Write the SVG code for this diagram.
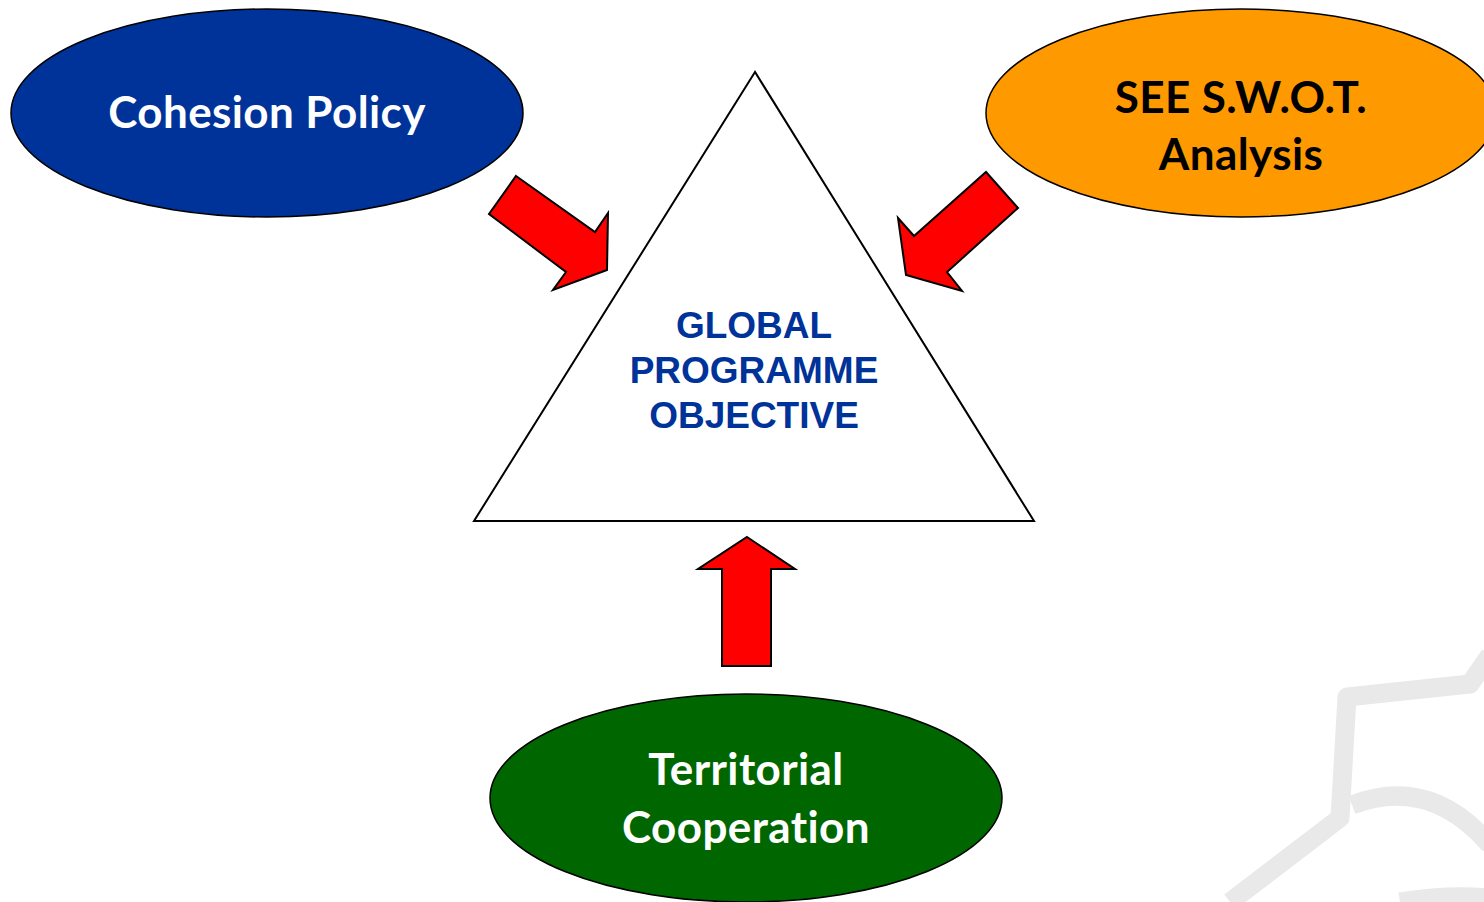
<svg xmlns="http://www.w3.org/2000/svg" width="1484" height="902" viewBox="0 0 1484 902">
<style>
.ell{stroke:#000;stroke-width:1.5}
.lbl{font-family:Lato,"Open Sans",sans-serif;font-weight:bold;font-size:44px;letter-spacing:0.4px;text-anchor:middle;font-variant-ligatures:none;font-feature-settings:"liga" 0}
.arrow{fill:#FF0000;stroke:#000;stroke-width:2;stroke-linejoin:miter}
.goal{font-family:"Liberation Sans",Arial,sans-serif;font-weight:bold;font-size:37px;fill:#003399;text-anchor:middle}
.wm{fill:none;stroke:#E9E9EA;stroke-width:19;stroke-linejoin:round}
</style>
<rect width="1484" height="902" fill="#fff"/>
<g id="watermark">
<path class="wm" d="M1230 902 L1340 818 L1347 697 L1470 684 L1490 655"/>
<path class="wm" d="M1352 805 Q1430 775 1490 845"/>
<path class="wm" d="M1400 902 Q1450 894 1490 898"/>
</g>
<g id="triangle">
<polygon points="755,72 474,521 1034,521" fill="#fff" stroke="#000" stroke-width="2"/>
<text class="goal" x="754" y="338">GLOBAL</text>
<text class="goal" x="754" y="383">PROGRAMME</text>
<text class="goal" x="754" y="428">OBJECTIVE</text>
</g>
<g id="cohesion">
<ellipse class="ell" cx="267" cy="113" rx="256" ry="104" fill="#003399"/>
<text class="lbl" x="267" y="128" fill="#fff">Cohesion Policy</text>
</g>
<g id="swot">
<ellipse class="ell" cx="1241" cy="113" rx="255" ry="104" fill="#FF9900"/>
<text class="lbl" x="1241" y="113" fill="#000">SEE S.W.O.T.</text>
<text class="lbl" x="1241" y="170" fill="#000">Analysis</text>
</g>
<g id="territorial">
<ellipse class="ell" cx="746" cy="798" rx="256" ry="104" fill="#006600"/>
<text class="lbl" x="746" y="785" fill="#fff">Territorial</text>
<text class="lbl" x="746" y="843" fill="#fff">Cooperation</text>
</g>
<g id="connectors">
<polygon class="arrow" points="516,176 595,232 608,213 607,270 553,290 566,272 489,214"/>
<polygon class="arrow" points="986,172 1018,208 947,272 962,291 906,275 898,218 914,236"/>
<polygon class="arrow" points="747,537 795,569 771,569 771,666 722,666 722,569 698,569"/>
</g>
</svg>
